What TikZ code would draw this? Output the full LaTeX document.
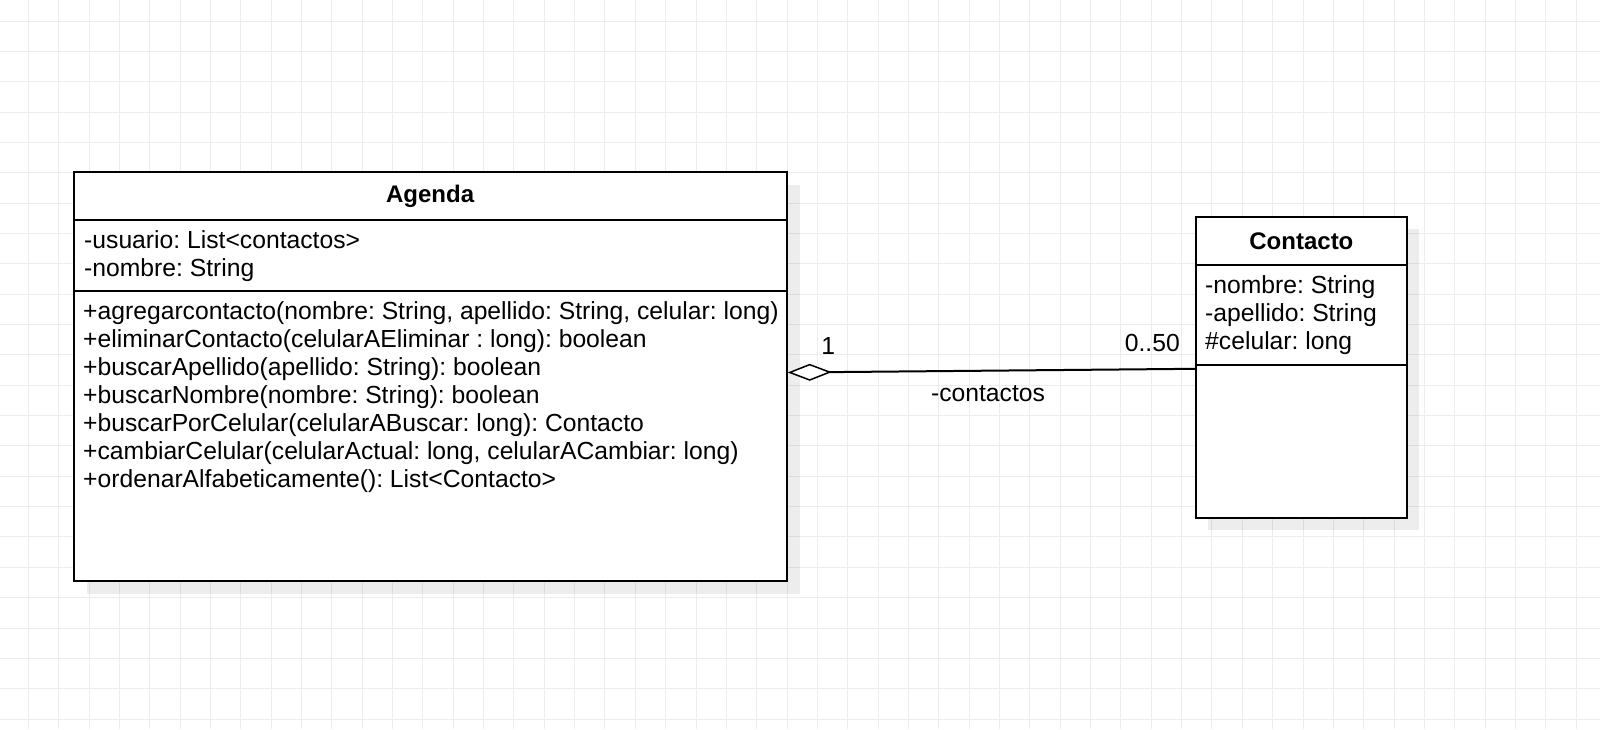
\documentclass[tikz,border=0pt]{standalone}
\usepackage{fontspec}
\setmainfont{Liberation Sans}
\usetikzlibrary{arrows.meta}
\definecolor{gridgray}{RGB}{236,236,236}
\frenchspacing

\begin{document}
\begin{tikzpicture}[x=1pt, y=-1pt,
    every node/.style={font=\fontsize{24.7}{28}\selectfont, inner sep=0pt},
    classbox/.style={draw, line width=2pt, fill=white},
    shadowbox/.style={fill=black, fill opacity=0.07},
    classname/.style={anchor=base, font=\fontsize{24}{28}\selectfont\bfseries},
    member/.style={anchor=base west}]
    % Background
    \useasboundingbox (0,0) rectangle (1600,729);
    \fill[white] (0,0) rectangle (1600,729);

    % Grid
    \foreach \gx in {0,...,51}
        \draw[gridgray, line width=1pt] ({28.3+30.35*\gx},0) -- ++(0,729);
    \foreach \gy in {0,...,23}
        \draw[gridgray, line width=1pt] (0,{21+30.35*\gy}) -- ++(1600,0);

    % Shadows
    \fill[shadowbox] (86.5,185.3) rectangle (799.7,593.6);
    \fill[shadowbox] (1208,229.3) rectangle (1419,530.3);

    % Agenda
    \node[classbox, minimum width=713.2pt, minimum height=408.3pt] (agenda) at (430.1,376.5) {};
    \draw[line width=2pt] (agenda.west |- 0,220) -- (agenda.east |- 0,220);
    \draw[line width=2pt] (agenda.west |- 0,291) -- (agenda.east |- 0,291);
    \node[classname] (agendaName) at (430.1,202.3) {Agenda};
    \foreach \txt [count=\i] in {{-usuario: List<contactos>}, {-nombre: String}}
        \node[member] (agendaAttr\i) at (84,{220+28*\i}) {\txt};
    \foreach \txt [count=\i] in {
        {+agregarcontacto(nombre: String, apellido: String, celular: long)},
        {+eliminarContacto(celularAEliminar : long): boolean},
        {+buscarApellido(apellido: String): boolean},
        {+buscarNombre(nombre: String): boolean},
        {+buscarPorCelular(celularABuscar: long): Contacto},
        {+cambiarCelular(celularActual: long, celularACambiar: long)},
        {+ordenarAlfabeticamente(): List<Contacto>}}
        \node[member] (agendaOp\i) at (83,{291+28*\i}) {\txt};

    % Contacto
    \node[classbox, minimum width=210.7pt, minimum height=301pt] (contacto) at (1301.4,367.8) {};
    \draw[line width=2pt] (contacto.west |- 0,265.3) -- (contacto.east |- 0,265.3);
    \draw[line width=2pt] (contacto.west |- 0,364.7) -- (contacto.east |- 0,364.7);
    \node[classname] (contactoName) at (1301.4,249.3) {Contacto};
    \foreach \txt [count=\i] in {{-nombre: String}, {-apellido: String}, {\#celular: long}}
        \node[member] (contactoAttr\i) at (1205,{265.3+28*\i}) {\txt};

    % Aggregation
    \draw[line width=2pt, {Diamond[fill=white, length=44pt, width=17pt, line width=1.5pt]}-]
        ([yshift=4pt]agenda.east) -- ([yshift=-1pt]contacto.west);
    \node[anchor=base] (multAgenda) at (828.3,354.3) {1};
    \node[anchor=base east] (multContacto) at (1180,351) {0..50};
    \node[anchor=base] (roleContactos) at (988,401) {-contactos};
\end{tikzpicture}
\end{document}
